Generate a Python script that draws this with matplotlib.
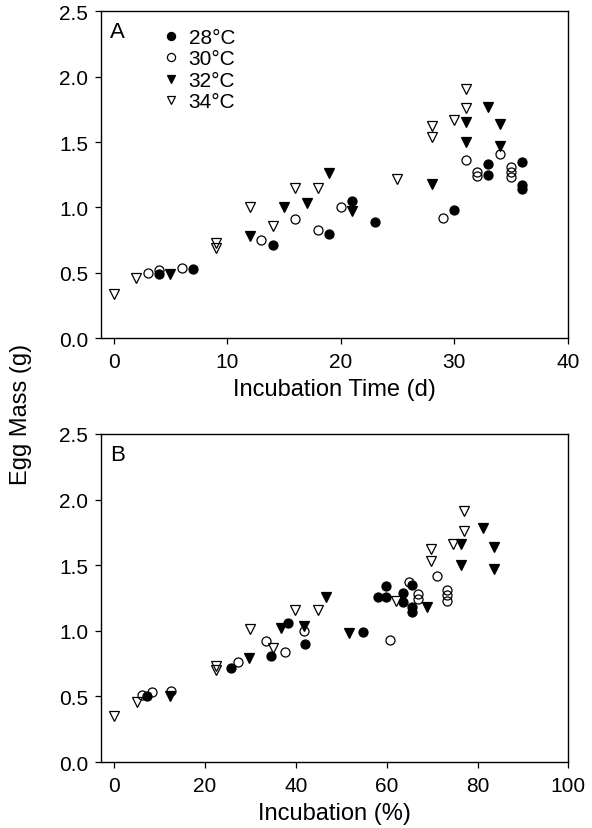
import matplotlib
matplotlib.use("Agg")
import matplotlib.pyplot as plt

plt.rcParams['font.family'] = ['Liberation Sans', 'DejaVu Sans']

# Panel A: egg mass vs incubation time (d)
a28_x = [4, 7, 14, 19, 21, 23, 30, 33, 33, 36, 36, 36]
a28_y = [0.49, 0.53, 0.71, 0.80, 1.05, 0.89, 0.98, 1.33, 1.25, 1.35, 1.17, 1.14]
a30_x = [3, 4, 6, 13, 16, 18, 20, 29, 31, 32, 32, 34, 35, 35, 35]
a30_y = [0.50, 0.52, 0.54, 0.75, 0.91, 0.83, 1.00, 0.92, 1.36, 1.27, 1.24, 1.41, 1.31, 1.27, 1.23]
a32_x = [5, 12, 15, 17, 19, 21, 28, 31, 31, 33, 34, 34]
a32_y = [0.49, 0.78, 1.00, 1.03, 1.26, 0.97, 1.18, 1.65, 1.50, 1.77, 1.64, 1.47]
a34_x = [0, 2, 9, 9, 12, 14, 16, 18, 25, 28, 28, 30, 31, 31]
a34_y = [0.34, 0.46, 0.73, 0.69, 1.00, 0.86, 1.15, 1.15, 1.22, 1.62, 1.54, 1.67, 1.76, 1.91]

# Panel B: egg mass vs incubation (%)
b28_x = [7.3, 25.6, 34.6, 38.2, 41.9, 54.7, 59.9, 58.1, 59.9, 63.6, 63.6, 65.6, 65.6, 65.6]
b28_y = [0.50, 0.72, 0.81, 1.06, 0.90, 0.99, 1.34, 1.26, 1.26, 1.29, 1.22, 1.35, 1.18, 1.14]
b30_x = [6.2, 8.4, 12.4, 27.3, 33.5, 37.7, 41.8, 60.8, 64.9, 67.0, 67.0, 71.1, 73.3, 73.3, 73.3]
b30_y = [0.51, 0.53, 0.54, 0.76, 0.92, 0.84, 1.00, 0.93, 1.37, 1.28, 1.24, 1.42, 1.31, 1.27, 1.23]
b32_x = [12.3, 29.6, 36.7, 41.8, 46.6, 51.7, 68.8, 76.3, 76.3, 81.1, 83.7, 83.7]
b32_y = [0.50, 0.79, 1.02, 1.04, 1.26, 0.98, 1.18, 1.66, 1.50, 1.78, 1.64, 1.47]
b34_x = [0, 4.9, 22.4, 22.4, 29.8, 34.9, 39.7, 44.8, 62.1, 69.7, 69.7, 74.6, 77.1, 77.1]
b34_y = [0.35, 0.46, 0.735, 0.70, 1.01, 0.87, 1.16, 1.155, 1.23, 1.62, 1.53, 1.66, 1.76, 1.91]

labels = ['28°C', '30°C', '32°C', '34°C']
yticks = [0.0, 0.5, 1.0, 1.5, 2.0, 2.5]

# marker style for each temperature
styles = [
    dict(marker='o', color='k', mfc='k'),
    dict(marker='o', color='k', mfc='none'),
    dict(marker='v', color='k', mfc='k'),
    dict(marker='v', color='k', mfc='none'),
]

fig = plt.figure(figsize=(5.92, 8.29), dpi=100)
axA = fig.add_axes([0.170, 0.591, 0.789, 0.394])
axB = fig.add_axes([0.170, 0.0796, 0.790, 0.3957])


def dibujar(ax, series, xlim, xticks, xlabel, letra):
    for (x, y), st, lab in zip(series, styles, labels):
        ax.plot(x, y, linestyle='none', markersize=6.5, markeredgewidth=0.9,
                label=lab, **st)
    ax.set_xlim(xlim)
    ax.set_ylim(0, 2.5)
    ax.set_xticks(xticks)
    ax.set_yticks(yticks)
    ax.set_yticklabels(['%.1f' % v for v in yticks])
    ax.tick_params(direction='out', length=4, width=0.9, labelsize=15)
    ax.tick_params(axis='x', pad=6)
    ax.tick_params(axis='y', pad=5)
    for s in ax.spines.values():
        s.set_linewidth(1.0)
    ax.set_xlabel(xlabel, fontsize=17, labelpad=5)
    ax.text(0.02, 0.97, letra, transform=ax.transAxes, fontsize=16,
            ha='left', va='top')


dibujar(axA, [(a28_x, a28_y), (a30_x, a30_y), (a32_x, a32_y), (a34_x, a34_y)],
        (-1.15, 40), [0, 10, 20, 30, 40], 'Incubation Time (d)', 'A')
dibujar(axB, [(b28_x, b28_y), (b30_x, b30_y), (b32_x, b32_y), (b34_x, b34_y)],
        (-3, 100), [0, 20, 40, 60, 80, 100], 'Incubation (%)', 'B')

axA.legend(loc='upper left', bbox_to_anchor=(0.115, 0.975), frameon=False,
           fontsize=15, handlelength=0.8, handletextpad=0.45,
           labelspacing=0.12, borderaxespad=0, markerscale=0.9)

fig.text(0.035, 0.5, 'Egg Mass (g)', rotation=90, fontsize=17,
         ha='center', va='center')

fig.savefig('out.png', dpi=100)
